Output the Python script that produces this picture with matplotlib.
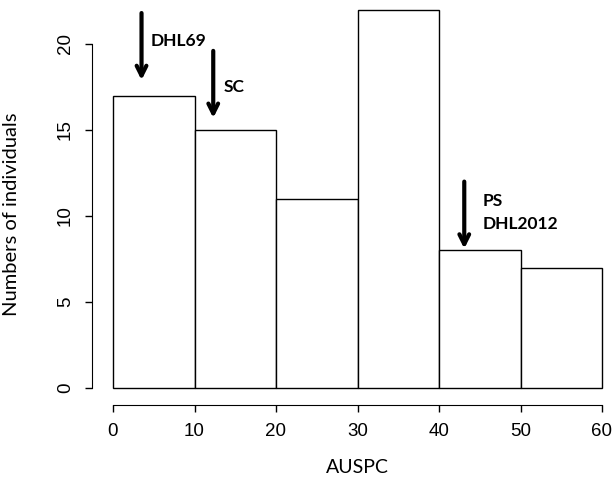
import numpy as np
import matplotlib
matplotlib.use('Agg')
from matplotlib import pyplot as plt

edges = [0, 10, 20, 30, 40, 50, 60]
counts = [17, 15, 11, 22, 8, 7]

arrow_x = [3.5, 12.3, 43.1]
arrow_top = [21.8, 19.6, 12.0]
arrow_tip = [17.9, 15.7, 8.1]
labels = ['DHL69', 'SC', 'PS\nDHL2012']
label_xy = [(4.6, 20.2), (13.6, 17.5), (45.4, 10.2)]

fig = plt.figure(figsize=(6.13, 4.82), dpi=100)
ax = fig.add_axes([113/613, (482-388)/482, 489/613, (388-9.6)/482])

bars = ax.bar(edges[:-1], counts, width=np.diff(edges), align='edge',
              color='white', edgecolor='black', linewidth=1.0)
for b in bars:
    b.set_clip_on(False)

for x, t, b in zip(arrow_x, arrow_top, arrow_tip):
    ax.annotate('', xy=(x, b), xytext=(x, t),
                arrowprops=dict(arrowstyle='->,head_length=0.7,head_width=0.35',
                                lw=3, color='black', shrinkA=0, shrinkB=0),
                annotation_clip=False)
for lab, (x, y) in zip(labels, label_xy):
    ax.text(x, y, lab, fontsize=12.5, fontweight='bold', family='Lato',
            ha='left', va='center', linespacing=1.5)

ax.set_xlim(0, 60)
ax.set_ylim(0, 22)
for s in ['top', 'right']:
    ax.spines[s].set_visible(False)
ax.spines['left'].set_position(('outward', 15))
ax.spines['bottom'].set_position(('outward', 12))
ax.spines['left'].set_bounds(0, 20)
ax.spines['bottom'].set_bounds(0, 60)
ax.set_xticks(edges)
ax.set_yticks([0, 5, 10, 15, 20])
ax.tick_params(length=5, width=1, labelsize=13.5, pad=8)
for lab in ax.get_xticklabels() + ax.get_yticklabels():
    lab.set_family('Liberation Sans')
for lab in ax.get_yticklabels():
    lab.set_rotation(90)
    lab.set_va('center')
ax.set_xlabel('AUSPC', fontsize=14, family='Lato', labelpad=14)
ax.set_ylabel('Numbers of individuals', fontsize=14.5, family='Lato')
ax.yaxis.set_label_coords(-0.19, 0.46)

fig.savefig('out.png', dpi=100)
